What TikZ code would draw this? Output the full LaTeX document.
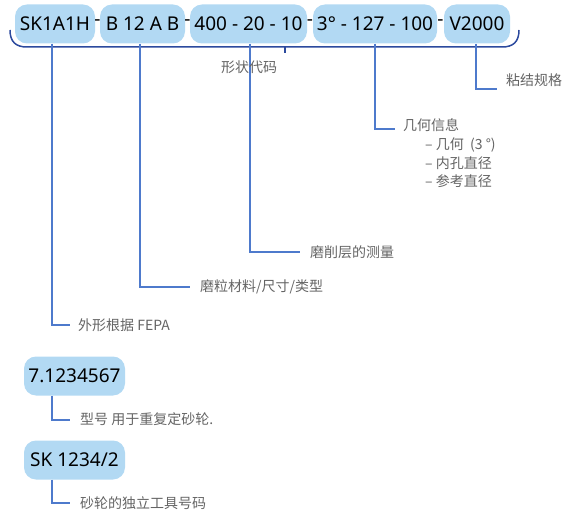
\documentclass[tikz,border=0pt]{standalone}
\usepackage{fontspec}
\setmainfont{Noto Sans}
\newfontfamily\cjk{Noto Sans CJK SC}
\definecolor{boxblue}{RGB}{178,217,243}
\definecolor{bracecol}{RGB}{44,74,158}
\definecolor{leadcol}{RGB}{78,122,204}
\definecolor{labelgray}{RGB}{100,100,100}
\tikzset{
  codebox/.style={rounded corners=12pt, fill=boxblue, minimum height=39pt, inner sep=0pt, font=\fontsize{19}{22}\selectfont, text=black},
  sep/.style={inner sep=0pt, font=\fontsize{19}{22}\selectfont},
  lbl/.style={anchor=west, inner sep=0pt, font=\cjk\fontsize{14}{16}\selectfont, text=labelgray},
  lead/.style={draw=leadcol, line width=1.3pt},
  bracel/.style={draw=bracecol, line width=1.5pt},
}
\begin{document}
\begin{tikzpicture}[x=1pt,y=-1pt]
\useasboundingbox (0,0) rectangle (581,513);
% brace
\coordinate (bl) at (10,30);
\coordinate (br) at (519,30);
\coordinate (tk) at (285,53);
\draw[bracel] (bl) .. controls (10,42) and (16,47) .. (27,47) -- (502,47) .. controls (513,47) and (519,42) .. (br);
\draw[bracel] (tk |- 0,47) -- (tk);
% boxes
\node[codebox, minimum width=80pt] (b1) at (55,24) {SK1A1H};
\node[codebox, minimum width=85pt] (b2) at (142.5,24) {B 12 A B};
\node[codebox, minimum width=117pt] (b3) at (248.5,24) {400 - 20 - 10};
\node[codebox, minimum width=124pt] (b4) at (375,24) {3° - 127 - 100};
\node[codebox, minimum width=66pt] (b5) at (477,24) {V2000};
\node[sep] (s1) at (97.5,23) {-};
\node[sep] (s2) at (187.5,23) {-};
\node[sep] (s3) at (310,23) {-};
\node[sep] (s4) at (440.5,23) {-};
% labels
\node[lbl] (t5) at (506,80) {粘结规格};
\node[lbl] (t4) at (403,125) {几何信息};
\node[lbl] (t4a) at (425,145) {– 几何 \ (3 °)};
\node[lbl] (t4b) at (425,163) {– 内孔直径};
\node[lbl] (t4c) at (425,181) {– 参考直径};
\node[lbl] (t3) at (310,252) {磨削层的测量};
\node[lbl] (t2) at (200,287) {磨粒材料/尺寸/类型};
\node[lbl] (t1) at (78,325) {外形根据 FEPA};
% leader corners
\coordinate (c1) at (52,325);
\coordinate (c2) at (140,287);
\coordinate (c3) at (250,252);
\coordinate (c4) at (375,129);
\coordinate (c5) at (476,89);
\draw[lead] (b1.south -| c1) -- (c1) -- (70,325);
\draw[lead] (b2.south -| c2) -- (c2) -- (190,287);
\draw[lead] (b3.south -| c3) -- (c3) -- (300,252);
\draw[lead] (b4.south -| c4) -- (c4) -- (395,129);
\draw[lead] (b5.south -| c5) -- (c5) -- (497,89);
\node[lbl, anchor=center] (t0) at (249,67) {形状代码};
% bottom boxes
\node[codebox, minimum width=101pt] (b6) at (74.5,376) {7.1234567};
\node[codebox, minimum width=101pt] (b7) at (74.5,460) {SK 1234/2};
\node[lbl] (t6) at (80,419) {型号 用于重复定砂轮.};
\node[lbl] (t7) at (80,503) {砂轮的独立工具号码};
\coordinate (c6) at (52,420);
\coordinate (c7) at (52,503);
\draw[lead] (b6.south -| c6) -- (c6) -- (70,420);
\draw[lead] (b7.south -| c7) -- (c7) -- (70,503);
\end{tikzpicture}
\end{document}
